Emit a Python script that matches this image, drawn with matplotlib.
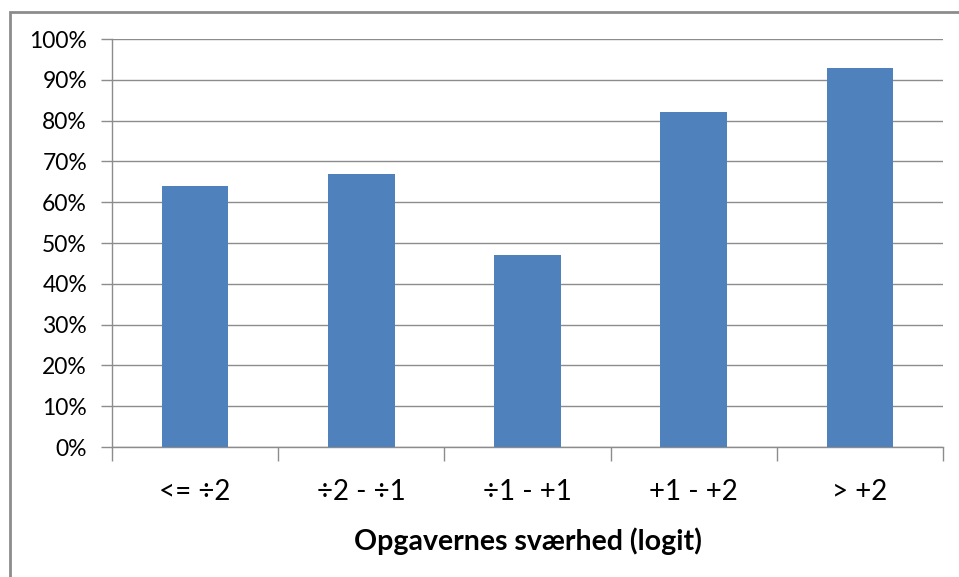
import matplotlib
matplotlib.use("Agg")
import matplotlib.pyplot as plt
from matplotlib.patches import Rectangle
from matplotlib.ticker import MultipleLocator, FuncFormatter

categories = ["<= ÷2", "÷2 - ÷1", "÷1 - +1", "+1 - +2", "> +2"]
values = [64, 67, 47, 82, 93]
xlabel = "Opgavernes sværhed (logit)"

plt.rcParams['font.family'] = ['Lato', 'DejaVu Sans']

fig = plt.figure(figsize=(9.59, 5.77), dpi=100)
fig.patches.append(Rectangle((10/959, -0.1), 1.2, 1 - 12/577 + 0.1, transform=fig.transFigure,
                             fill=False, edgecolor="#8c8c8c", linewidth=2))

ax = fig.add_axes([112/959, 1 - 447/577, (943 - 112)/959, (447 - 39)/577])
x = list(range(len(categories)))
ax.bar(x, values, width=0.4, color="#4F81BD", zorder=3)
ax.set_xlim(-0.5, len(categories) - 0.5)
ax.set_ylim(0, 100)
ax.yaxis.set_major_locator(MultipleLocator(10))
ax.yaxis.set_major_formatter(FuncFormatter(lambda v, p: f"{v:.0f}%"))
ax.grid(axis='y', color="#8c8c8c", linewidth=1, zorder=0)
ax.set_axisbelow(True)

ax.set_xticks(x)
ax.set_xticklabels(categories, fontsize=20)
ax.set_xticks([i - 0.5 for i in range(len(categories) + 1)], minor=True)
ax.tick_params(axis='x', which='major', length=0, pad=23)
ax.tick_params(axis='x', which='minor', length=10, color="#8c8c8c", width=1)
ax.tick_params(axis='y', length=8, color="#8c8c8c", width=1, labelsize=16.5, pad=10)
for s in ['top', 'right']:
    ax.spines[s].set_visible(False)
for s in ['left', 'bottom']:
    ax.spines[s].set_color("#8c8c8c")
    ax.spines[s].set_linewidth(1)

ax.set_xlabel(xlabel, fontsize=20.5, fontweight='bold', labelpad=16)

fig.savefig("out.png", dpi=100)
